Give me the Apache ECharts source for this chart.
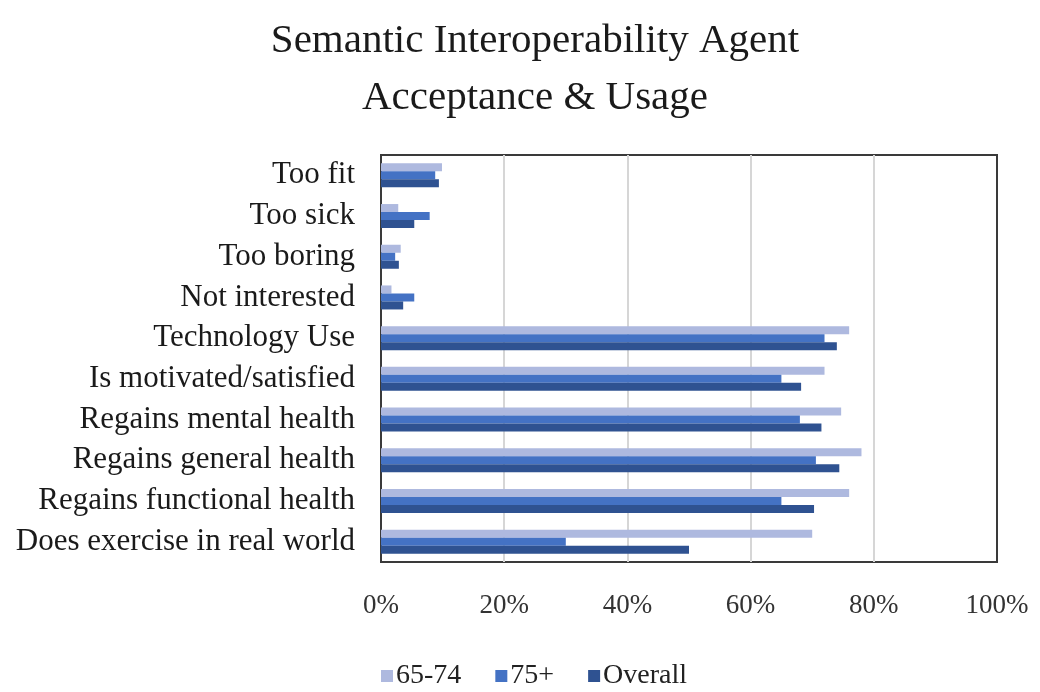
<!DOCTYPE html>
<html>
<head>
<meta charset="utf-8">
<script src="https://cdn.jsdelivr.net/npm/echarts@6/dist/echarts.min.js"></script>
<style>
  html, body { margin: 0; padding: 0; background: #fff; }
  #main { width: 1040px; height: 692px; }
</style>
</head>
<body>
<div id="main"></div>
<script>
// categories, top to bottom
var categories = ['Too fit', 'Too sick', 'Too boring', 'Not interested', 'Technology Use',
    'Is motivated/satisfied', 'Regains mental health', 'Regains general health',
    'Regains functional health', 'Does exercise in real world'];
var seriesNames = ['65-74', '75+', 'Overall'];
// percentages
var age6574 = [9.9, 2.8, 3.2, 1.7, 76, 72, 74.7, 78, 76, 70];
var age75 = [8.8, 7.9, 2.3, 5.4, 72, 65, 68, 70.6, 65, 30];
var overall = [9.4, 5.4, 2.9, 3.6, 74, 68.2, 71.5, 74.4, 70.3, 50];
var xTicks = [0, 20, 40, 60, 80, 100];

var colors = ['#aeb9df', '#4472c4', '#2f5291'];
var serif = 'Liberation Serif';

var myChart = echarts.init(document.getElementById('main'));
var option = {
    animation: false,
    color: colors,
    title: {
        text: 'Semantic Interoperability Agent\nAcceptance & Usage',
        left: 530,
        top: 8,
        textAlign: 'center',
        textStyle: {
            fontFamily: serif,
            fontSize: 41,
            fontWeight: 'normal',
            color: '#1a1a1a',
            lineHeight: 57
        }
    },
    legend: {
        data: seriesNames,
        bottom: -3,
        left: 376,
        itemWidth: 12,
        itemHeight: 12,
        itemGap: 34,
        icon: 'rect',
        textStyle: { fontFamily: serif, fontSize: 28, color: '#222', padding: [0, 0, 0, -2] }
    },
    grid: {
        left: 381,
        right: 43,
        top: 155,
        bottom: 130,
        show: true,
        borderColor: '#3a3a3a',
        borderWidth: 2
    },
    xAxis: {
        type: 'value',
        min: xTicks[0],
        max: xTicks[xTicks.length - 1],
        interval: 20,
        axisLine: { show: false },
        axisTick: { show: false },
        splitLine: { showMinLine: false, showMaxLine: false, lineStyle: { color: '#d6d6d6', width: 2 } },
        axisLabel: {
            margin: 30,
            fontFamily: serif,
            fontSize: 27,
            color: '#333',
            formatter: '{value}%'
        }
    },
    yAxis: {
        type: 'category',
        data: categories,
        inverse: true,
        axisLine: { show: true, lineStyle: { color: '#3a3a3a', width: 2 } },
        axisTick: { show: false },
        axisLabel: {
            margin: 26,
            fontFamily: serif,
            fontSize: 31,
            color: '#1a1a1a'
        }
    },
    series: [
        { name: seriesNames[0], type: 'bar', data: age6574, barGap: '0%', barCategoryGap: '41%' },
        { name: seriesNames[1], type: 'bar', data: age75, barGap: '0%', barCategoryGap: '41%' },
        { name: seriesNames[2], type: 'bar', data: overall, barGap: '0%', barCategoryGap: '41%' }
    ]
};
myChart.setOption(option);
</script>
</body>
</html>
